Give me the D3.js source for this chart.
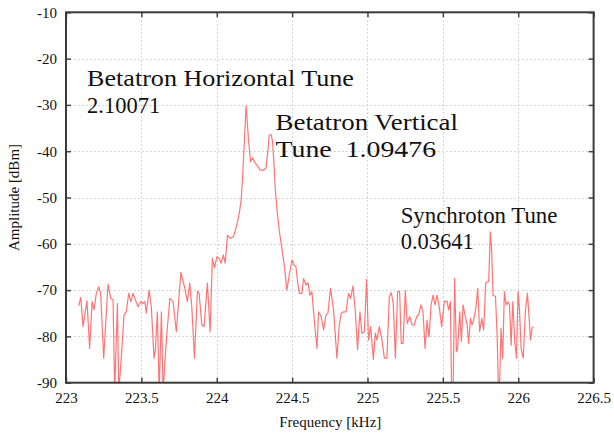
<!DOCTYPE html>
<html>
<head>
<meta charset="utf-8">
<script src="https://cdn.jsdelivr.net/npm/d3@7"></script>
<style>
  html, body { margin: 0; padding: 0; background: #fff; }
  svg { display: block; }
  text { font-family: "Liberation Serif", "Times New Roman", serif; }
</style>
</head>
<body>
<svg id="chart" width="614" height="433"></svg>
<script>
const freqKHz = [
  223.084,223.098,223.113,223.139,223.157,223.173,223.186,223.201,223.217,223.230,
  223.250,223.279,223.297,223.312,223.323,223.341,223.350,223.367,223.385,223.400,
  223.416,223.430,223.445,223.460,223.478,223.496,223.509,223.523,223.533,223.551,
  223.566,223.584,223.593,223.606,223.618,223.633,223.644,223.659,223.673,223.689,
  223.710,223.732,223.762,223.788,223.805,223.821,223.835,223.852,223.872,223.883,
  223.901,223.916,223.938,223.956,223.971,223.985,224.001,224.016,224.029,224.044,
  224.056,224.071,224.089,224.111,224.127,224.140,224.151,224.162,224.171,224.182,
  224.195,224.210,224.224,224.237,224.255,224.273,224.288,224.310,224.326,224.339,
  224.348,224.361,224.370,224.379,224.388,224.401,224.416,224.432,224.448,224.465,
  224.481,224.499,224.512,224.525,224.539,224.549,224.565,224.576,224.592,224.605,
  224.618,224.631,224.647,224.665,224.675,224.693,224.709,224.724,224.738,224.755,
  224.775,224.797,224.813,224.826,224.841,224.857,224.875,224.888,224.904,224.919,
  224.934,224.950,224.963,224.979,224.994,225.007,225.021,225.039,225.052,225.063,
  225.078,225.096,225.112,225.129,225.145,225.158,225.171,225.185,225.200,225.213,
  225.224,225.236,225.251,225.264,225.280,225.296,225.311,225.326,225.339,225.355,
  225.368,225.382,225.395,225.408,225.422,225.435,225.448,225.462,225.477,225.492,
  225.510,225.528,225.538,225.550,225.558,225.568,225.578,225.590,225.598,225.612,
  225.623,225.634,225.647,225.661,225.671,225.683,225.694,225.704,225.720,225.731,
  225.744,225.758,225.771,225.784,225.793,225.804,225.815,225.824,225.833,225.849,
  225.860,225.869,225.875,225.886,225.897,225.908,225.920,225.930,225.942,225.953,
  225.964,225.977,225.988,225.999,226.008,226.019,226.033,226.048,226.061,226.074,
  226.081,226.092,226.099
];
const amplitudeDBm = [
  -73.4,-71.6,-77.9,-72.3,-82.6,-72.5,-74.3,-70.7,-69.3,-70.7,
  -84.7,-68.7,-71.8,-72.1,-92.0,-72.9,-92.0,-84.4,-75.4,-74.7,
  -70.7,-72.5,-70.7,-72.1,-73.6,-72.5,-72.9,-72.5,-75.0,-70.0,
  -73.6,-84.7,-82.9,-74.7,-92.0,-74.7,-92.0,-84.0,-77.9,-71.8,
  -72.5,-79.0,-66.2,-69.6,-72.5,-68.5,-73.9,-84.7,-70.2,-70.7,
  -77.5,-77.9,-68.5,-79.0,-63.1,-65.2,-62.8,-63.1,-64.2,-62.4,
  -64.2,-58.2,-58.8,-58.5,-56.7,-54.9,-53.1,-50.5,-45.9,-38.7,
  -30.2,-37.2,-42.3,-41.4,-42.6,-43.3,-44.1,-44.1,-43.7,-40.1,
  -36.5,-36.4,-37.9,-42.3,-48.0,-53.1,-57.4,-61.0,-64.6,-70.0,
  -66.7,-63.5,-64.6,-64.9,-68.9,-70.7,-70.7,-67.5,-68.9,-68.4,
  -71.1,-70.3,-76.5,-82.6,-74.7,-75.7,-78.6,-75.4,-74.9,-69.6,
  -74.3,-84.7,-77.5,-75.0,-74.7,-74.7,-70.7,-71.8,-69.1,-74.3,
  -82.8,-74.7,-79.3,-79.0,-67.7,-80.8,-77.9,-84.9,-79.3,-80.8,
  -77.9,-80.8,-84.7,-84.7,-71.4,-70.6,-72.9,-84.7,-70.3,-70.3,
  -81.5,-81.5,-70.1,-77.2,-75.7,-77.5,-77.5,-75.7,-75.4,-73.2,
  -74.5,-82.6,-76.5,-80.1,-73.2,-71.1,-73.2,-71.1,-73.9,-77.9,
  -72.5,-72.4,-74.3,-72.5,-92.0,-92.0,-67.5,-83.3,-82.6,-74.7,
  -81.1,-73.2,-75.4,-77.5,-81.5,-76.1,-77.5,-76.5,-73.6,-69.6,
  -79.0,-76.1,-78.6,-68.5,-68.2,-68.2,-57.4,-61.7,-71.1,-71.4,
  -79.7,-92.0,-92.0,-78.2,-84.7,-70.3,-73.2,-72.5,-73.2,-81.9,
  -72.5,-81.1,-84.7,-70.3,-73.9,-82.6,-84.7,-74.3,-70.7,-76.8,
  -80.8,-78.2,-77.9
];
const xTicks = [223, 223.5, 224, 224.5, 225, 225.5, 226, 226.5];
const yTicks = [-90, -80, -70, -60, -50, -40, -30, -20, -10];
const xDomain = [223, 226.5];
const yDomain = [-90, -10];
const xTitle = "Frequency [kHz]";
const yTitle = "Amplitude [dBm]";
// text, anchor frequency, anchor amplitude, span in kHz
const annotationLines = [
  ["Betatron Horizontal Tune", 223.14, -26.0, 1.77],
  ["2.10071", 223.14, -31.7, 0.485],
  ["Betatron Vertical", 224.39, -35.4, 1.21],
  ["Tune  1.09476", 224.39, -41.2, 1.065],
  ["Synchroton Tune", 225.22, -55.5, 1.04],
  ["0.03641", 225.22, -61.1, 0.485]
];

const svg = d3.select("#chart");
const L = 66, R = 593.6, T = 12.3, B = 382.7;
const x = d3.scaleLinear().domain(xDomain).range([L, R]);
const y = d3.scaleLinear().domain(yDomain).range([B, T]);

// grid
const grid = svg.append("g").attr("stroke", "#c8c8c8").attr("stroke-width", 1).attr("stroke-dasharray", "1.5,2.5");
grid.selectAll("line.gx").data(xTicks.slice(1, -1)).join("line")
  .attr("x1", d => Math.round(x(d)) + 0.5).attr("x2", d => Math.round(x(d)) + 0.5)
  .attr("y1", T).attr("y2", B);
grid.selectAll("line.gy").data(yTicks.slice(1, -1)).join("line")
  .attr("y1", d => Math.round(y(d)) + 0.5).attr("y2", d => Math.round(y(d)) + 0.5)
  .attr("x1", L).attr("x2", R);

// data line
svg.append("clipPath").attr("id", "clip").append("rect")
  .attr("x", L).attr("y", T).attr("width", R - L).attr("height", B - T);
const pts = freqKHz.map((f, i) => [f, amplitudeDBm[i]]);
svg.append("path")
  .datum(pts)
  .attr("clip-path", "url(#clip)")
  .attr("fill", "none")
  .attr("stroke", "#ff3a3a")
  .attr("stroke-opacity", 0.7)
  .attr("stroke-width", 1.2)
  .attr("stroke-linejoin", "round")
  .attr("d", d3.line().x(d => x(d[0])).y(d => y(d[1])));

// axes
const fmt = d => String(d);
const axB = svg.append("g").attr("transform", `translate(0,${B})`)
  .call(d3.axisBottom(x).tickValues(xTicks).tickFormat(fmt).tickSize(-5).tickPadding(10));
const axL = svg.append("g").attr("transform", `translate(${L},0)`)
  .call(d3.axisLeft(y).tickValues(yTicks).tickFormat(fmt).tickSize(-5).tickPadding(9));
const axT = svg.append("g").attr("transform", `translate(0,${T})`)
  .call(d3.axisTop(x).tickValues(xTicks).tickFormat("").tickSize(-5));
const axR = svg.append("g").attr("transform", `translate(${R},0)`)
  .call(d3.axisRight(y).tickValues(yTicks).tickFormat("").tickSize(-5));
[axB, axL, axT, axR].forEach(g => {
  g.select(".domain").remove();
  g.selectAll(".tick line").attr("stroke", "#444").attr("stroke-width", 1.5);
  g.selectAll("text").attr("font-family", "Liberation Serif, serif").attr("font-size", 15).attr("fill", "#111");
});

// frame
svg.append("rect").attr("x", L).attr("y", T).attr("width", R - L).attr("height", B - T)
  .attr("fill", "none").attr("stroke", "#3a3a3a").attr("stroke-width", 2);

// titles
svg.append("text").attr("x", (L + R) / 2 + 0.5).attr("y", 427).attr("text-anchor", "middle")
  .attr("font-size", 15).attr("fill", "#111").text(xTitle);
svg.append("text").attr("transform", `translate(19,${(T + B) / 2}) rotate(-90)`).attr("text-anchor", "middle")
  .attr("font-size", 15).attr("fill", "#111").text(yTitle);

// annotations
svg.append("g").selectAll("text").data(annotationLines).join("text")
  .attr("x", d => x(d[1])).attr("y", d => y(d[2]))
  .attr("font-size", 22.5).attr("fill", "#111")
  .attr("textLength", d => x(d[1] + d[3]) - x(d[1]))
  .attr("lengthAdjust", "spacingAndGlyphs")
  .style("white-space", "pre")
  .text(d => d[0]);
</script>
</body>
</html>
